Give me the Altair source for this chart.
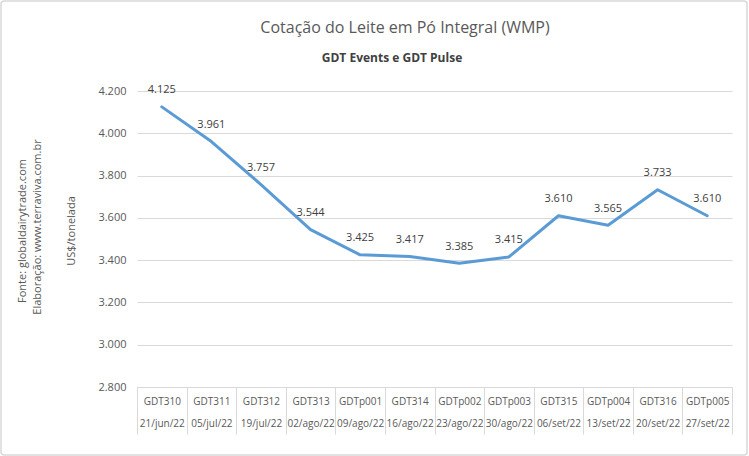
import altair as alt
import pandas as pd

# GDT auction codes, auction dates and whole milk powder prices (US$/t)
codes = ["GDT310", "GDT311", "GDT312", "GDT313", "GDTp001", "GDT314",
         "GDTp002", "GDTp003", "GDT315", "GDTp004", "GDT316", "GDTp005"]
dates = ["21/jun/22", "05/jul/22", "19/jul/22", "02/ago/22", "09/ago/22", "16/ago/22",
         "23/ago/22", "30/ago/22", "06/set/22", "13/set/22", "20/set/22", "27/set/22"]
prices = [4125, 3961, 3757, 3544, 3425, 3417, 3385, 3415, 3610, 3565, 3733, 3610]
y_ticks = [2800, 3000, 3200, 3400, 3600, 3800, 4000, 4200]

df = pd.DataFrame({
    "evento": [f"{c}|{d}" for c, d in zip(codes, dates)],
    "preco": prices,
})

FONT = "Open Sans"
GRID = "#D9D9D9"
TXT = "#595959"
order = list(df["evento"])

x_enc = alt.X(
    "evento:N",
    sort=order,
    scale=alt.Scale(paddingInner=0, paddingOuter=0),
    axis=alt.Axis(
        title=None,
        labelExpr="split(datum.label, '|')",
        labelAngle=0,
        labelFont=FONT,
        labelFontSize=10,
        labelColor=TXT,
        labelLineHeight=22,
        labelBaseline="top",
        labelPadding=-38,
        labelOverlap=False,
        labelFlush=False,
        domainColor=GRID,
        tickColor=GRID,
        tickSize=47,
        tickBand="extent",
        grid=False,
    ),
)
y_enc = alt.Y(
    "preco:Q",
    scale=alt.Scale(domain=[2800, 4200], nice=False, zero=False),
    axis=alt.Axis(
        title=None,
        values=y_ticks,
        labelExpr="replace(format(datum.value, ','), ',', '.')",
        labelFont=FONT,
        labelFontSize=11,
        labelColor=TXT,
        labelPadding=11,
        ticks=False,
        domain=False,
        gridColor=GRID,
        gridWidth=1,
    ),
)

base = alt.Chart(df)

line = base.mark_line(color="#5B9BD5", strokeWidth=3, strokeCap="round",
                      strokeJoin="round").encode(x=x_enc, y=y_enc)

labels = base.transform_calculate(
    rotulo="replace(format(datum.preco, ','), ',', '.')"
).mark_text(font=FONT, fontSize=11, color="#404040", baseline="middle",
            align="center", dy=-16.5).encode(
    x=alt.X("evento:N", sort=order), y="preco:Q", text="rotulo:N")

one = alt.Data(values=[{}])


def note(text, x, y, size=11, weight="normal", angle=0, color=TXT):
    return alt.Chart(one).mark_text(
        text=text, font=FONT, fontSize=size, fontWeight=weight, color=color,
        angle=angle, align="center", baseline="middle",
    ).encode(x=alt.value(x), y=alt.value(y))


title = note("Cotação do Leite em Pó Integral (WMP)", 268, -63, size=16)
subtitle = note("GDT Events e GDT Pulse", 255, -33, size=12, weight="bold",
                color="#404040")
fonte = note("Fonte: globaldairytrade.com", -114, 140, angle=270)
elab = note("Elaboração: www.terraviva.com.br", -99, 136, angle=270)
unid = note("US$/tonelada", -65, 140, angle=270)

frame = alt.Chart(one).mark_rect(
    filled=False, stroke=GRID, strokeWidth=1.5, cornerRadius=3
).encode(x=alt.value(-136), x2=alt.value(610), y=alt.value(-90),
         y2=alt.value(364))

chart = alt.layer(line, labels, title, subtitle, fonte, elab, unid, frame).properties(
    width=595,
    height=296,
    autosize=alt.AutoSizeParams(type="none"),
    padding={"left": 137, "top": 91, "right": 17, "bottom": 69},
    background="white",
).configure_view(stroke=None)

chart.save("out.html", embed_options={"renderer": "svg", "actions": False})
